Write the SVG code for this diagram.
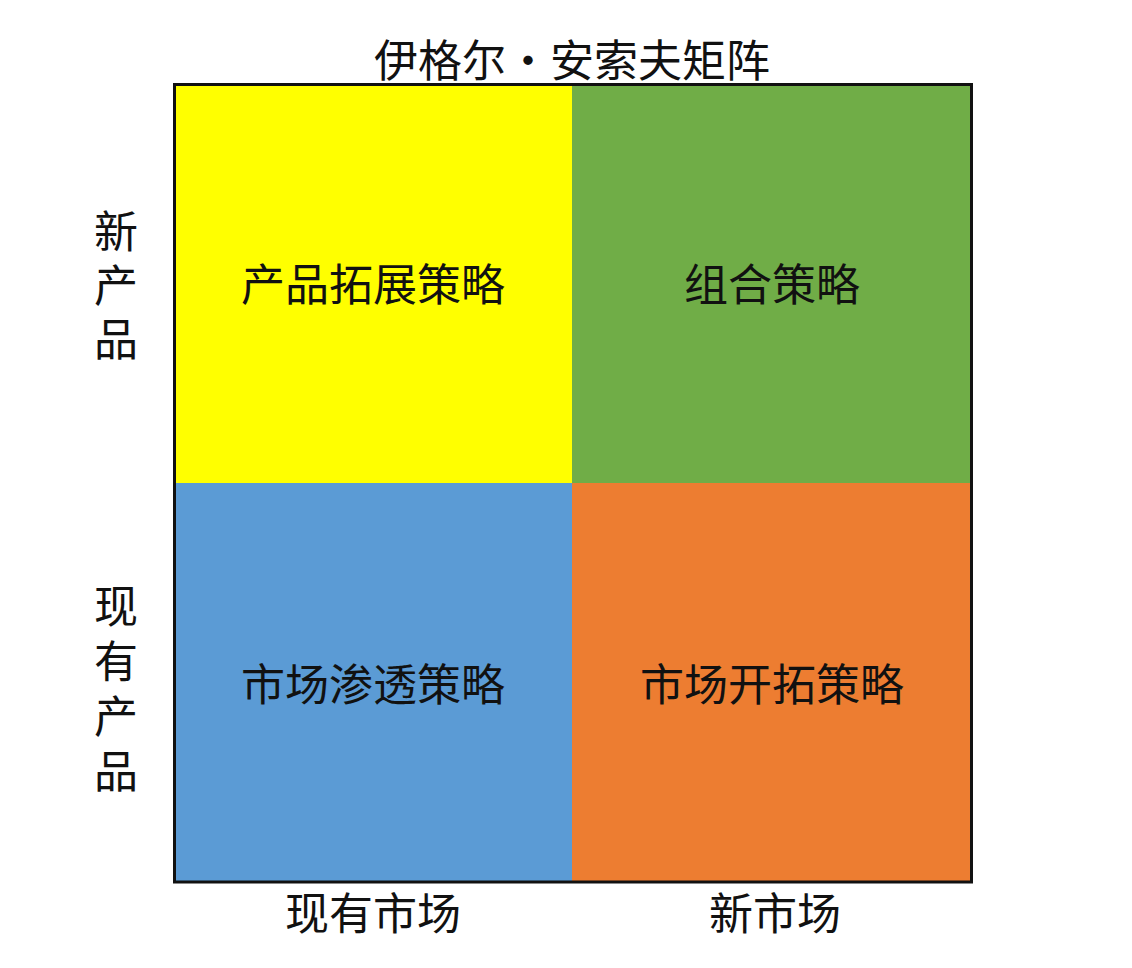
<svg xmlns="http://www.w3.org/2000/svg" width="1132" height="968" viewBox="0 0 1132 968">
<style>
text{font-family:"Noto Sans CJK SC","Noto Sans CJK JP",sans-serif;font-size:44px;fill:#111;text-anchor:middle}
text.v{writing-mode:vertical-rl;text-anchor:start}
</style>
<rect width="1132" height="968" fill="#ffffff"/>
<g id="title"><text x="572" y="77">伊格尔·安索夫矩阵</text></g>
<g id="q-product-ext">
<rect x="174.5" y="84.5" width="397.5" height="398.5" fill="#FFFF00"/>
<text x="373" y="301">产品拓展策略</text>
</g>
<g id="q-combo">
<rect x="572" y="84.5" width="399.5" height="398.5" fill="#70AD47"/>
<text x="772" y="301">组合策略</text>
</g>
<g id="q-penetration">
<rect x="174.5" y="483" width="397.5" height="399" fill="#5B9BD5"/>
<text x="373" y="701">市场渗透策略</text>
</g>
<g id="q-market-dev">
<rect x="572" y="483" width="399.5" height="399" fill="#ED7D31"/>
<text x="772" y="701">市场开拓策略</text>
</g>
<g id="frame"><rect x="174.5" y="84.5" width="797" height="797.5" fill="none" stroke="#111" stroke-width="3"/></g>
<g id="axis-y-new"><text class="v" x="116" y="209" letter-spacing="10">新产品</text></g>
<g id="axis-y-existing"><text class="v" x="116" y="584" letter-spacing="11">现有产品</text></g>
<g id="axis-x-existing"><text x="373" y="930">现有市场</text></g>
<g id="axis-x-new"><text x="775" y="930">新市场</text></g>
<g id="connectors"></g>
</svg>
